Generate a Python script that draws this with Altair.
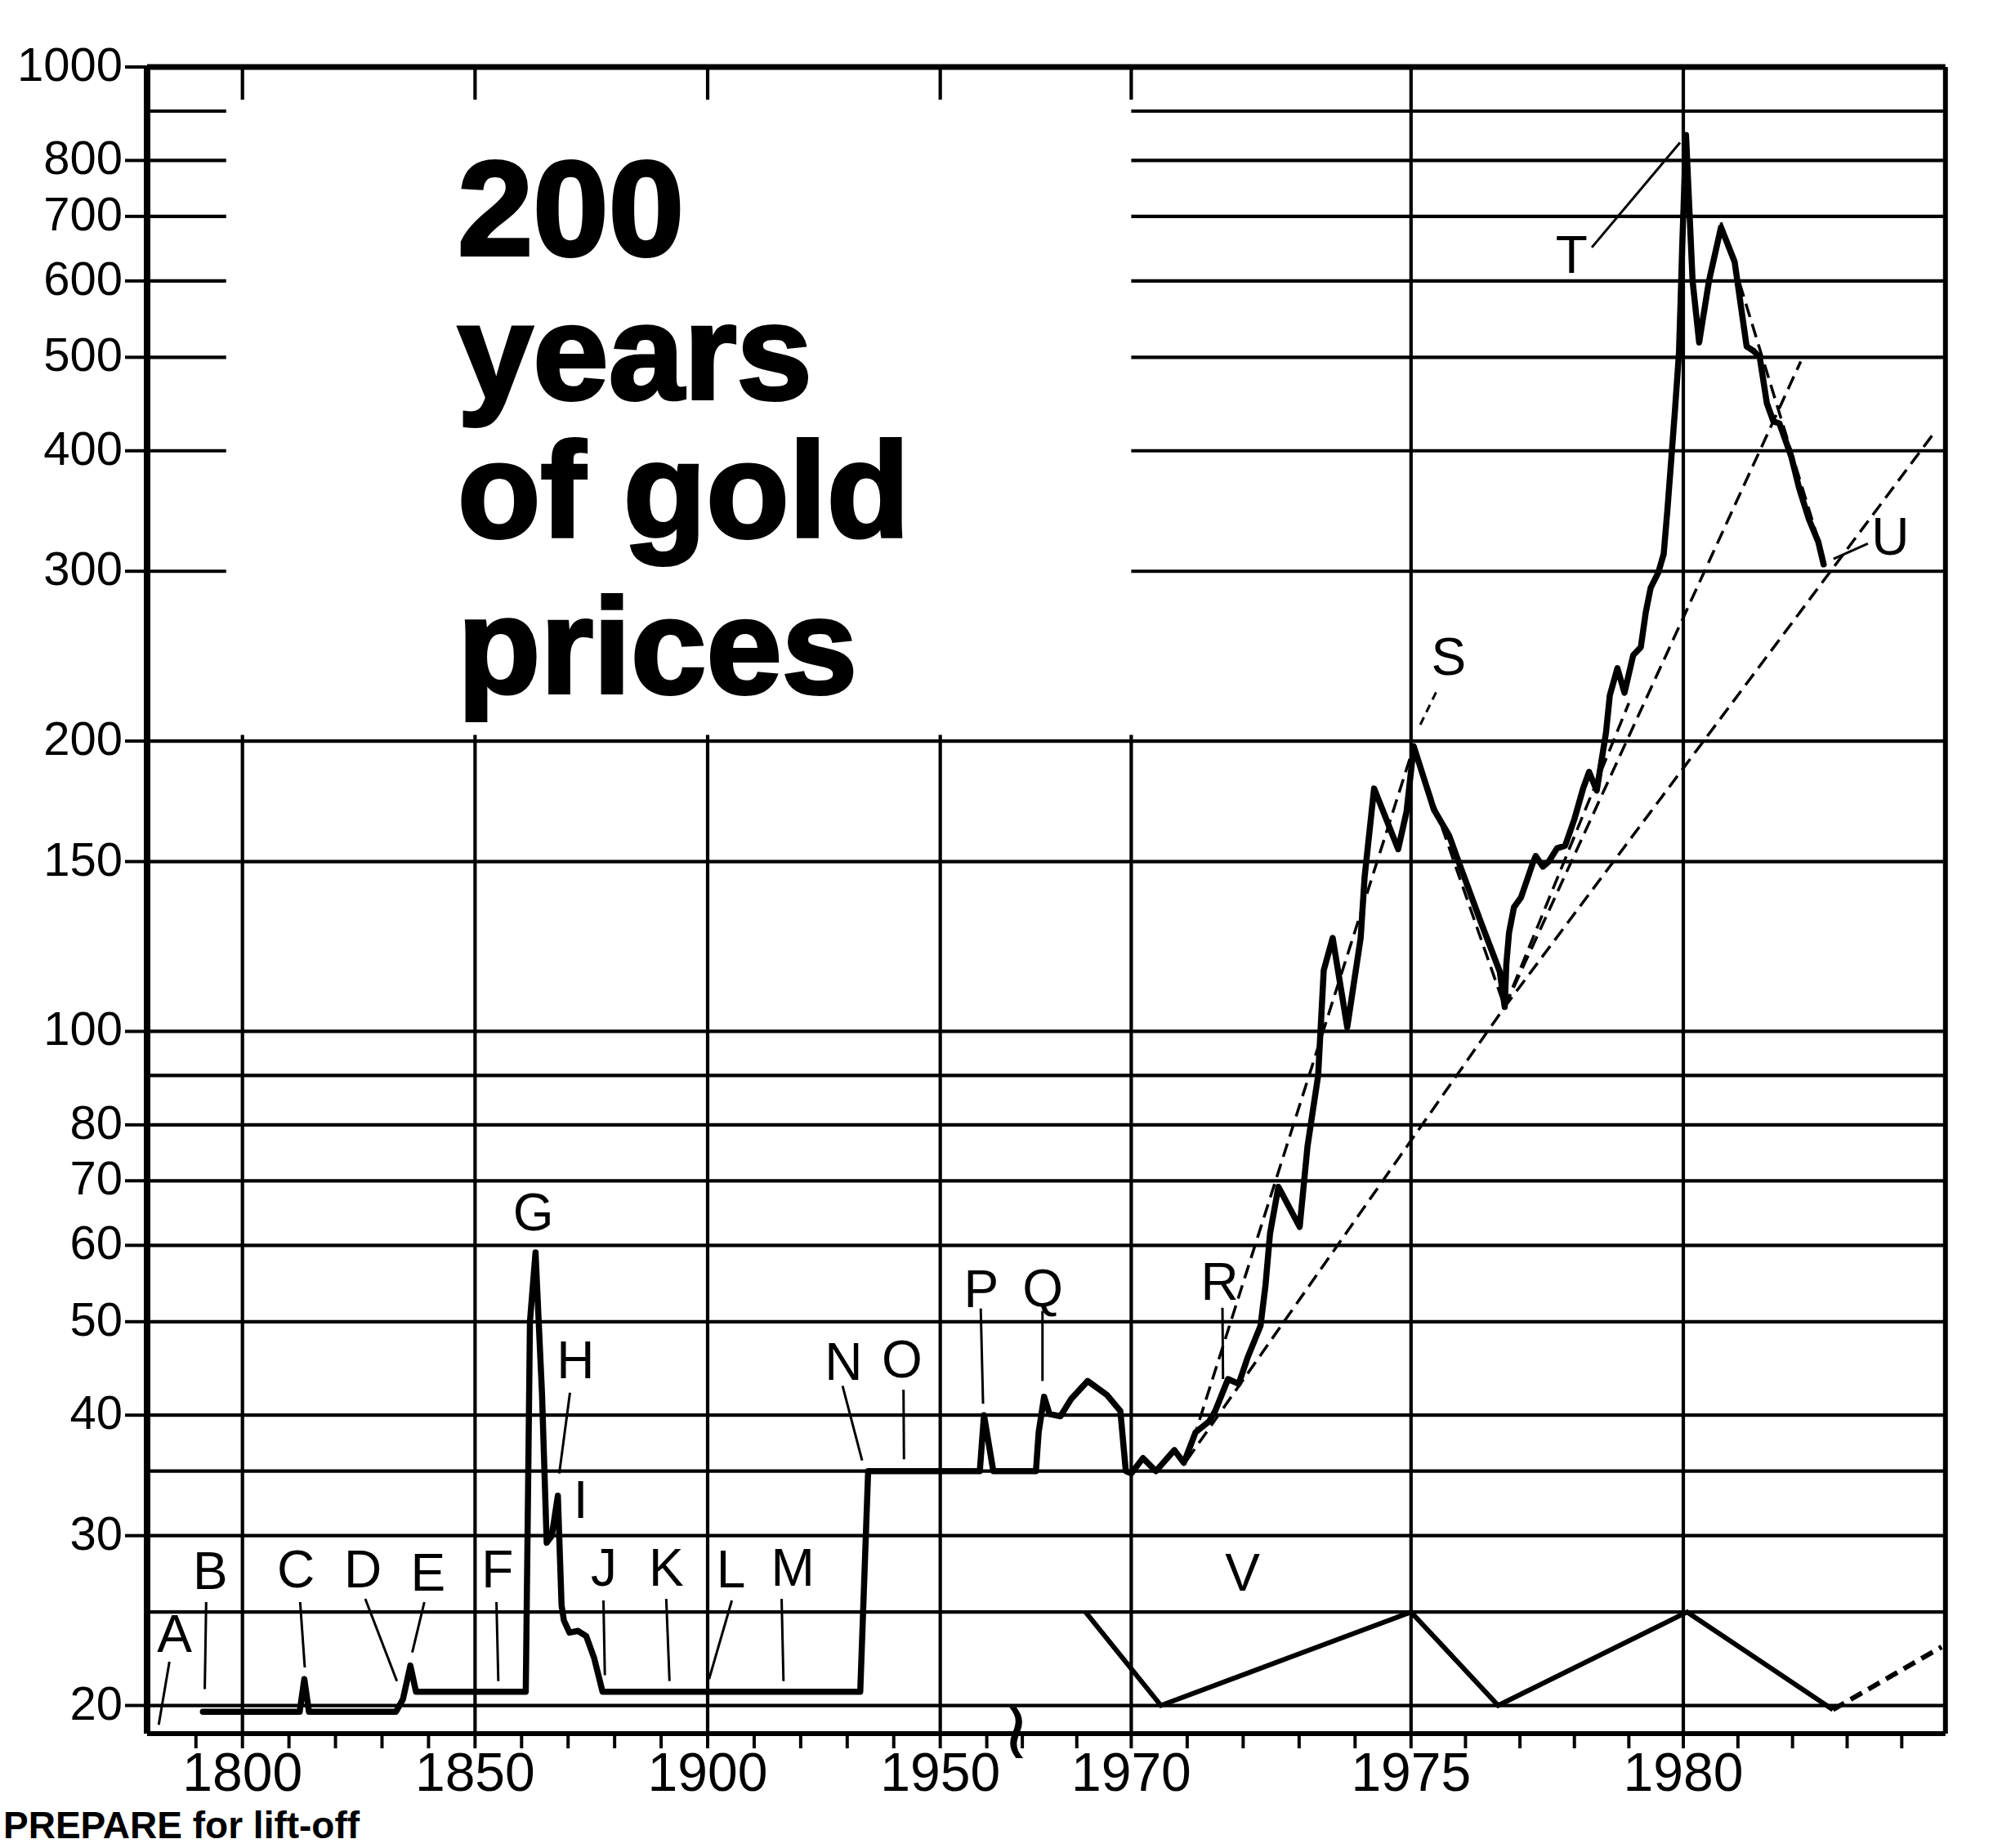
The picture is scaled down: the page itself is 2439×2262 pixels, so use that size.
import altair as alt
import pandas as pd

# ---------------------------------------------------------------
# Gold price, US dollars per ounce (log scale)
# ---------------------------------------------------------------
price_year = [
    1791.5, 1812.3, 1813.3, 1814.3, 1833.0, 1834.5, 1836.1, 1837.3,
    1860.9, 1861.5, 1861.8, 1863.0, 1864.4, 1865.4, 1866.5, 1867.8, 1868.6, 1869.1, 1870.3, 1872.1, 1873.9, 1875.6, 1877.4,
    1932.8, 1934.5, 1958.5, 1959.4, 1961.1,
    1966.5, 1966.6, 1966.8, 1967.0, 1967.4, 1967.8, 1968.4, 1969.1, 1969.6, 1969.8,
    1970.0, 1970.21, 1970.44, 1970.77, 1970.94, 1971.15, 1971.39, 1971.5, 1971.73, 1971.92,
    1972.08, 1972.31, 1972.4, 1972.48, 1972.63, 1973.01, 1973.15, 1973.34, 1973.44, 1973.6, 1973.86,
    1974.1, 1974.17, 1974.34, 1974.77, 1974.92, 1975.05, 1975.42, 1975.7, 1975.84, 1976.28, 1976.63, 1976.72,
    1976.75, 1976.8, 1976.89, 1977.02, 1977.14, 1977.24, 1977.29, 1977.42, 1977.53, 1977.68, 1977.83, 1978.0,
    1978.16, 1978.27, 1978.41, 1978.58, 1978.65, 1978.79, 1978.92, 1979.08, 1979.22, 1979.31, 1979.4, 1979.54,
    1979.64, 1979.71, 1979.78, 1979.85, 1979.92, 1979.95, 1979.98, 1980.05, 1980.17, 1980.29, 1980.47, 1980.69,
    1980.94, 1981.16, 1981.28, 1981.4, 1981.53, 1981.65, 1981.76, 1981.98, 1982.12, 1982.3, 1982.47, 1982.57,
]
price_usd = [
    19.7, 19.7, 21.3, 19.7, 19.7, 20.3, 22.0, 20.67,
    20.67, 37, 50, 59, 42, 29.5, 30, 33, 25.4, 24.5, 23.8, 23.9, 23.6, 22.4, 20.67,
    20.67, 35, 35, 40, 35,
    35, 38.4, 41.8, 40.1, 39.9, 41.6, 43.4, 42, 40.4, 35,
    34.8, 36.1, 35, 36.8, 35.7, 38.4, 39.4, 40.4, 43.6, 43.1,
    45.9, 49.5, 54.6, 61.7, 69, 62.7, 76, 90, 115.7, 125, 101,
    125, 144.5, 178.6, 154.5, 169, 197.5, 169.8, 159.6, 151.7, 129.9, 115.3, 106,
    117.4, 126.6, 134.5, 137.7, 144.1, 149.7, 152, 148.2, 150, 154.8, 155.8, 166,
    178.6, 185.8, 177.7, 204, 223, 238, 224.5, 245.5, 250.3, 271.8, 288.3, 299,
    312.6, 348.4, 392.6, 443, 505, 570.8, 652, 850, 600, 518, 600, 682,
    628, 513, 508, 500, 448, 429, 427, 394, 366, 339.6, 322, 305,
]

# dashed trend lines (one id per line)
trend_id = ["a", "a", "b", "b", "b", "c", "c", "d", "d", "e", "e", "f", "f"]
trend_year = [1970.99, 1975.05, 1970.99, 1976.72, 1984.6, 1976.72, 1982.15,
              1976.72, 1979.0, 1980.69, 1982.57, 1975.05, 1976.72]
trend_usd = [35.9, 197.5, 35.9, 106, 418, 106, 495, 106, 219, 690, 310, 197.5, 106]

# cycle line "V" along the bottom, plus its projected (dashed) leg
cycle_year = [1968.32, 1970.53, 1975.0, 1976.6, 1980.07, 1982.74]
cycle_usd = [25, 20, 25, 20, 25, 19.8]
cycle_proj_year = [1982.74, 1984.73]
cycle_proj_usd = [19.8, 23]

# event letters
label_letter = list("ABCDEFGHIJKLMNOPQRSTUV")
label_year = [1785.4, 1793.1, 1811.5, 1825.9, 1839.9, 1854.8, 1862.5, 1871.6, 1872.7, 1877.7, 1891.1,
              1905.0, 1918.3, 1929.2, 1941.8, 1958.8, 1966.75, 1971.58, 1975.69, 1977.95, 1983.79, 1971.99]
label_usd = [23.6, 27.4, 27.5, 27.5, 27.3, 27.5, 64.5, 45.3, 32.5, 27.6, 27.6,
             27.5, 27.6, 45.2, 45.4, 53.7, 53.8, 54.7, 243, 635, 324, 27.3]

# pointer lines from letters to the curve
leader_year1 = [1784.3, 1792.2, 1812.4, 1826.4, 1839.1, 1854.6, 1870.4, 1877.6, 1891.1, 1905.2, 1915.9,
                1929.0, 1942.1, 1958.7, 1966.74, 1971.63, 1978.32, 1983.38]
leader_usd1 = [22.2, 25.6, 25.6, 25.8, 25.6, 25.6, 42.2, 25.7, 25.8, 25.7, 25.8,
               42.9, 42.5, 51.6, 51.3, 51.7, 650, 320.5]
leader_year2 = [1782.0, 1791.9, 1813.4, 1833.2, 1836.5, 1855.0, 1868.1, 1877.9, 1891.8, 1900.3, 1916.3,
                1933.2, 1942.2, 1959.2, 1966.74, 1971.64, 1979.94, 1982.75]
leader_usd2 = [19.1, 20.8, 21.9, 21.2, 22.7, 21.2, 34.8, 21.5, 21.2, 21.3, 21.2,
               35.9, 36.0, 41.1, 43.4, 43.6, 835, 309]
s_leader_year = [1975.17, 1975.49]
s_leader_usd = [208, 226.5]

# grid and axis layout
grid_lower = [20, 25, 30, 35, 40, 50, 60, 70, 80, 90, 100, 150, 200]
grid_upper = [300, 400, 500, 600, 700, 800, 900]
vgrid_lower = [1800, 1850, 1900, 1950, 1970]
vgrid_full = [1975, 1980]
y_ticks = [20, 30, 40, 50, 60, 70, 80, 100, 150, 200, 300, 400, 500, 600, 700, 800, 1000]
x_ticks = list(range(1790, 1961, 10)) + [1966, 1968] + list(range(1970, 1985))
x_labels = [1800, 1850, 1900, 1950, 1970, 1975, 1980]

X_LO, X_HI = 1779.5, 1984.8
Y_LO, Y_HI = 18.7, 1000
STUB_END = 1796.5
UPPER_START = 1970
TOP_TICK = 925
VLINE_TOP = 203
BREAK_YEAR = 1965.0

FONT = "Liberation Sans"
INK = "black"
GRID_W = 4.2

PAD_LEFT, PAD_TOP = 180, 82

# piecewise year axis: long compressed history, a break in the 1960s, stretched 1970s
x_scale = alt.Scale(domain=[X_LO, 1960, 1966, 1970, 1975, 1980, X_HI],
                    range=[0, 1027.6, 1071.1, 1204.4, 1546.8, 1880.0, 2200.8], nice=False)
y_scale = alt.Scale(type="log", domain=[Y_LO, Y_HI], nice=False)


def X(field):
    return alt.X(f"{field}:Q", scale=x_scale, axis=None, title=None)


def Y(field):
    return alt.Y(f"{field}:Q", scale=y_scale, axis=None, title=None)


def hrules(values, x0, x1, width=GRID_W):
    df = pd.DataFrame({"usd": values, "x0": x0, "x1": x1})
    return alt.Chart(df).mark_rule(color=INK, strokeWidth=width).encode(
        x=X("x0"), x2="x1:Q", y=Y("usd"))


def vrules(years, y0, y1, width=GRID_W):
    df = pd.DataFrame({"year": years, "y0": y0, "y1": y1})
    return alt.Chart(df).mark_rule(color=INK, strokeWidth=width).encode(
        x=X("year"), y=Y("y0"), y2="y1:Q")


layers = []

# grid: full-width lower half, short stubs by the axis and the 1970s panel in the upper half
layers.append(hrules(grid_lower, X_LO, X_HI))
layers.append(hrules(grid_upper, X_LO, STUB_END))
layers.append(hrules(grid_upper, UPPER_START, X_HI))
layers.append(vrules(vgrid_lower, Y_LO, VLINE_TOP))
layers.append(vrules(vgrid_lower, TOP_TICK, Y_HI))
layers.append(vrules(vgrid_full, Y_LO, Y_HI))

# frame: top, right, left axis, bottom axis
layers.append(hrules([Y_HI], X_LO, X_HI, width=7))
layers.append(vrules([X_HI], Y_LO, Y_HI, width=6))
layers.append(vrules([X_LO], Y_LO, Y_HI, width=8))
layers.append(hrules([Y_LO], X_LO, X_HI, width=6))

# value axis: ticks and labels
y_tick_df = pd.DataFrame({"usd": y_ticks, "x0": X_LO})
layers.append(
    alt.Chart(y_tick_df).mark_rule(color=INK, strokeWidth=4, xOffset=-27)
    .encode(x=X("x0"), x2="x0:Q", y=Y("usd"))
)
layers.append(
    alt.Chart(y_tick_df).mark_text(font=FONT, fontSize=58, color=INK, align="right", baseline="middle", dx=-30)
    .encode(x=X("x0"), y=Y("usd"), text=alt.Text("usd:Q", format="d"))
)

# time axis: ticks and labels
layers.append(
    alt.Chart(pd.DataFrame({"year": x_ticks, "y0": Y_LO})).mark_rule(color=INK, strokeWidth=4, y2Offset=18)
    .encode(x=X("year"), y=Y("y0"), y2="y0:Q")
)
layers.append(
    alt.Chart(pd.DataFrame({"year": x_labels, "y0": Y_LO}))
    .mark_text(font=FONT, fontSize=66, color=INK, align="center", baseline="top", dy=18)
    .encode(x=X("year"), y=Y("y0"), text=alt.Text("year:Q", format="d"))
)

# axis break mark on the time axis
layers.append(
    alt.Chart(pd.DataFrame({"year": [BREAK_YEAR], "usd": [Y_LO], "t": ["\u2240"]}))
    .mark_text(font="DejaVu Sans", fontSize=100, color=INK, align="center", baseline="middle")
    .encode(x=X("year"), y=Y("usd"), text="t:N")
)

# dashed trend lines
trend_df = pd.DataFrame({"id": trend_id, "year": trend_year, "usd": trend_usd})
trend_df["i"] = range(len(trend_df))
layers.append(
    alt.Chart(trend_df)
    .mark_line(color=INK, strokeWidth=3.5, strokeDash=[17, 9])
    .encode(x=X("year"), y=Y("usd"), detail="id:N", order="i:Q")
)

# gold price
price_df = pd.DataFrame({"year": price_year, "usd": price_usd})
price_df["i"] = range(len(price_df))
layers.append(
    alt.Chart(price_df)
    .mark_line(color=INK, strokeWidth=7.5, strokeJoin="round", strokeCap="round")
    .encode(x=X("year"), y=Y("usd"), order="i:Q")
)

# cycle line V
layers.append(
    alt.Chart(pd.DataFrame({"year": cycle_year, "usd": cycle_usd}))
    .mark_line(color=INK, strokeWidth=6)
    .encode(x=X("year"), y=Y("usd"))
)
layers.append(
    alt.Chart(pd.DataFrame({"year": cycle_proj_year, "usd": cycle_proj_usd}))
    .mark_line(color=INK, strokeWidth=6, strokeDash=[16, 9])
    .encode(x=X("year"), y=Y("usd"))
)

# letter pointers
layers.append(
    alt.Chart(pd.DataFrame({"x1": leader_year1, "y1": leader_usd1, "x2": leader_year2, "y2": leader_usd2}))
    .mark_rule(color=INK, strokeWidth=3)
    .encode(x=X("x1"), y=Y("y1"), x2="x2:Q", y2="y2:Q")
)
layers.append(
    alt.Chart(pd.DataFrame({"x1": [s_leader_year[0]], "y1": [s_leader_usd[0]],
                            "x2": [s_leader_year[1]], "y2": [s_leader_usd[1]]}))
    .mark_rule(color=INK, strokeWidth=3, strokeDash=[10, 7])
    .encode(x=X("x1"), y=Y("y1"), x2="x2:Q", y2="y2:Q")
)

# letters
layers.append(
    alt.Chart(pd.DataFrame({"letter": label_letter, "year": label_year, "usd": label_usd}))
    .mark_text(font=FONT, fontSize=64, color=INK, align="center", baseline="middle")
    .encode(x=X("year"), y=Y("usd"), text="letter:N")
)

# headline (page positions, converted to the plot origin)
for words, base in [("200", 312), ("years", 488), ("of gold", 657), ("prices", 848)]:
    layers.append(
        alt.Chart(pd.DataFrame({"t": [words]}))
        .mark_text(font=FONT, fontSize=166, fontWeight="bold", color=INK, stroke=INK, strokeWidth=4,
                   align="left", baseline="alphabetic")
        .encode(x=alt.value(560 - PAD_LEFT), y=alt.value(base - PAD_TOP), text="t:N")
    )

# start of the article text below the chart
layers.append(
    alt.Chart(pd.DataFrame({"t": ["PREPARE for lift-off"]}))
    .mark_text(font=FONT, fontSize=46, fontWeight="bold", color=INK, align="left", baseline="alphabetic")
    .encode(x=alt.value(4 - PAD_LEFT), y=alt.value(2250 - PAD_TOP), text="t:N")
)

chart = (
    alt.layer(*layers)
    .properties(width=2201, height=2040,
                padding={"left": PAD_LEFT, "top": PAD_TOP, "right": 2439 - PAD_LEFT - 2201,
                         "bottom": 2262 - PAD_TOP - 2040},
                autosize=alt.AutoSizeParams(type="none"),
                background="white")
    .configure_view(stroke=None)
)

chart.save("out.html", embed_options={"renderer": "svg", "actions": False})
